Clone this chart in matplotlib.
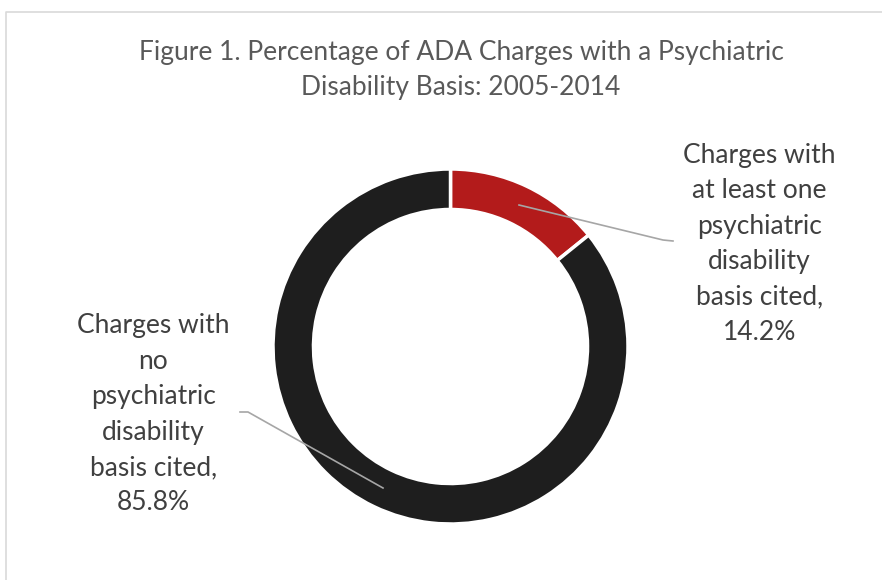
import matplotlib
matplotlib.use("Agg")
import matplotlib.pyplot as plt

# Data
labels = ["Charges with\nat least one\npsychiatric\ndisability\nbasis cited,\n14.2%",
          "Charges with\nno\npsychiatric\ndisability\nbasis cited,\n85.8%"]
values = [14.2, 85.8]
colors = ["#B31B1B", "#1E1E1E"]

W, H = 882, 580
plt.rcParams['font.family'] = ['Lato', 'DejaVu Sans']
fig = plt.figure(figsize=(W / 100, H / 100), dpi=100)

# donut
cx, cy, r = 450.5, 346.5, 177.5
ax = fig.add_axes([(cx - r) / W, (H - cy - r) / H, 2 * r / W, 2 * r / H])
ax.pie(values, colors=colors, startangle=90, counterclock=False,
       wedgeprops=dict(width=0.228, edgecolor='white', linewidth=2.5))
ax.set_xlim(-1, 1)
ax.set_ylim(-1, 1)
ax.set_aspect('equal')
ax.axis('off')

# overlay in pixel coords for border, title, labels and leader lines
ov = fig.add_axes([0, 0, 1, 1])
ov.set_xlim(0, W)
ov.set_ylim(H, 0)
ov.axis('off')
ov.patch.set_alpha(0)

ov.plot([6, 6, W + 5], [H + 5, 12, 12], color="#D9D9D9", lw=1.2)

ov.text(461, 70, "Figure 1. Percentage of ADA Charges with a Psychiatric\nDisability Basis: 2005-2014",
        ha='center', va='center', fontsize=19, color="#595959", linespacing=1.5)

# labels
ov.text(759.5, 244, labels[0], ha='center', va='center', fontsize=19,
        color="#404040", linespacing=1.52)
ov.text(153.5, 414.5, labels[1], ha='center', va='center', fontsize=19,
        color="#404040", linespacing=1.52)

ov.plot([519, 663, 673], [205, 240, 241], color="#A6A6A6", lw=1.2)
ov.plot([383, 248, 240], [488, 412, 412], color="#A6A6A6", lw=1.2)

fig.savefig("out.png", dpi=100)
